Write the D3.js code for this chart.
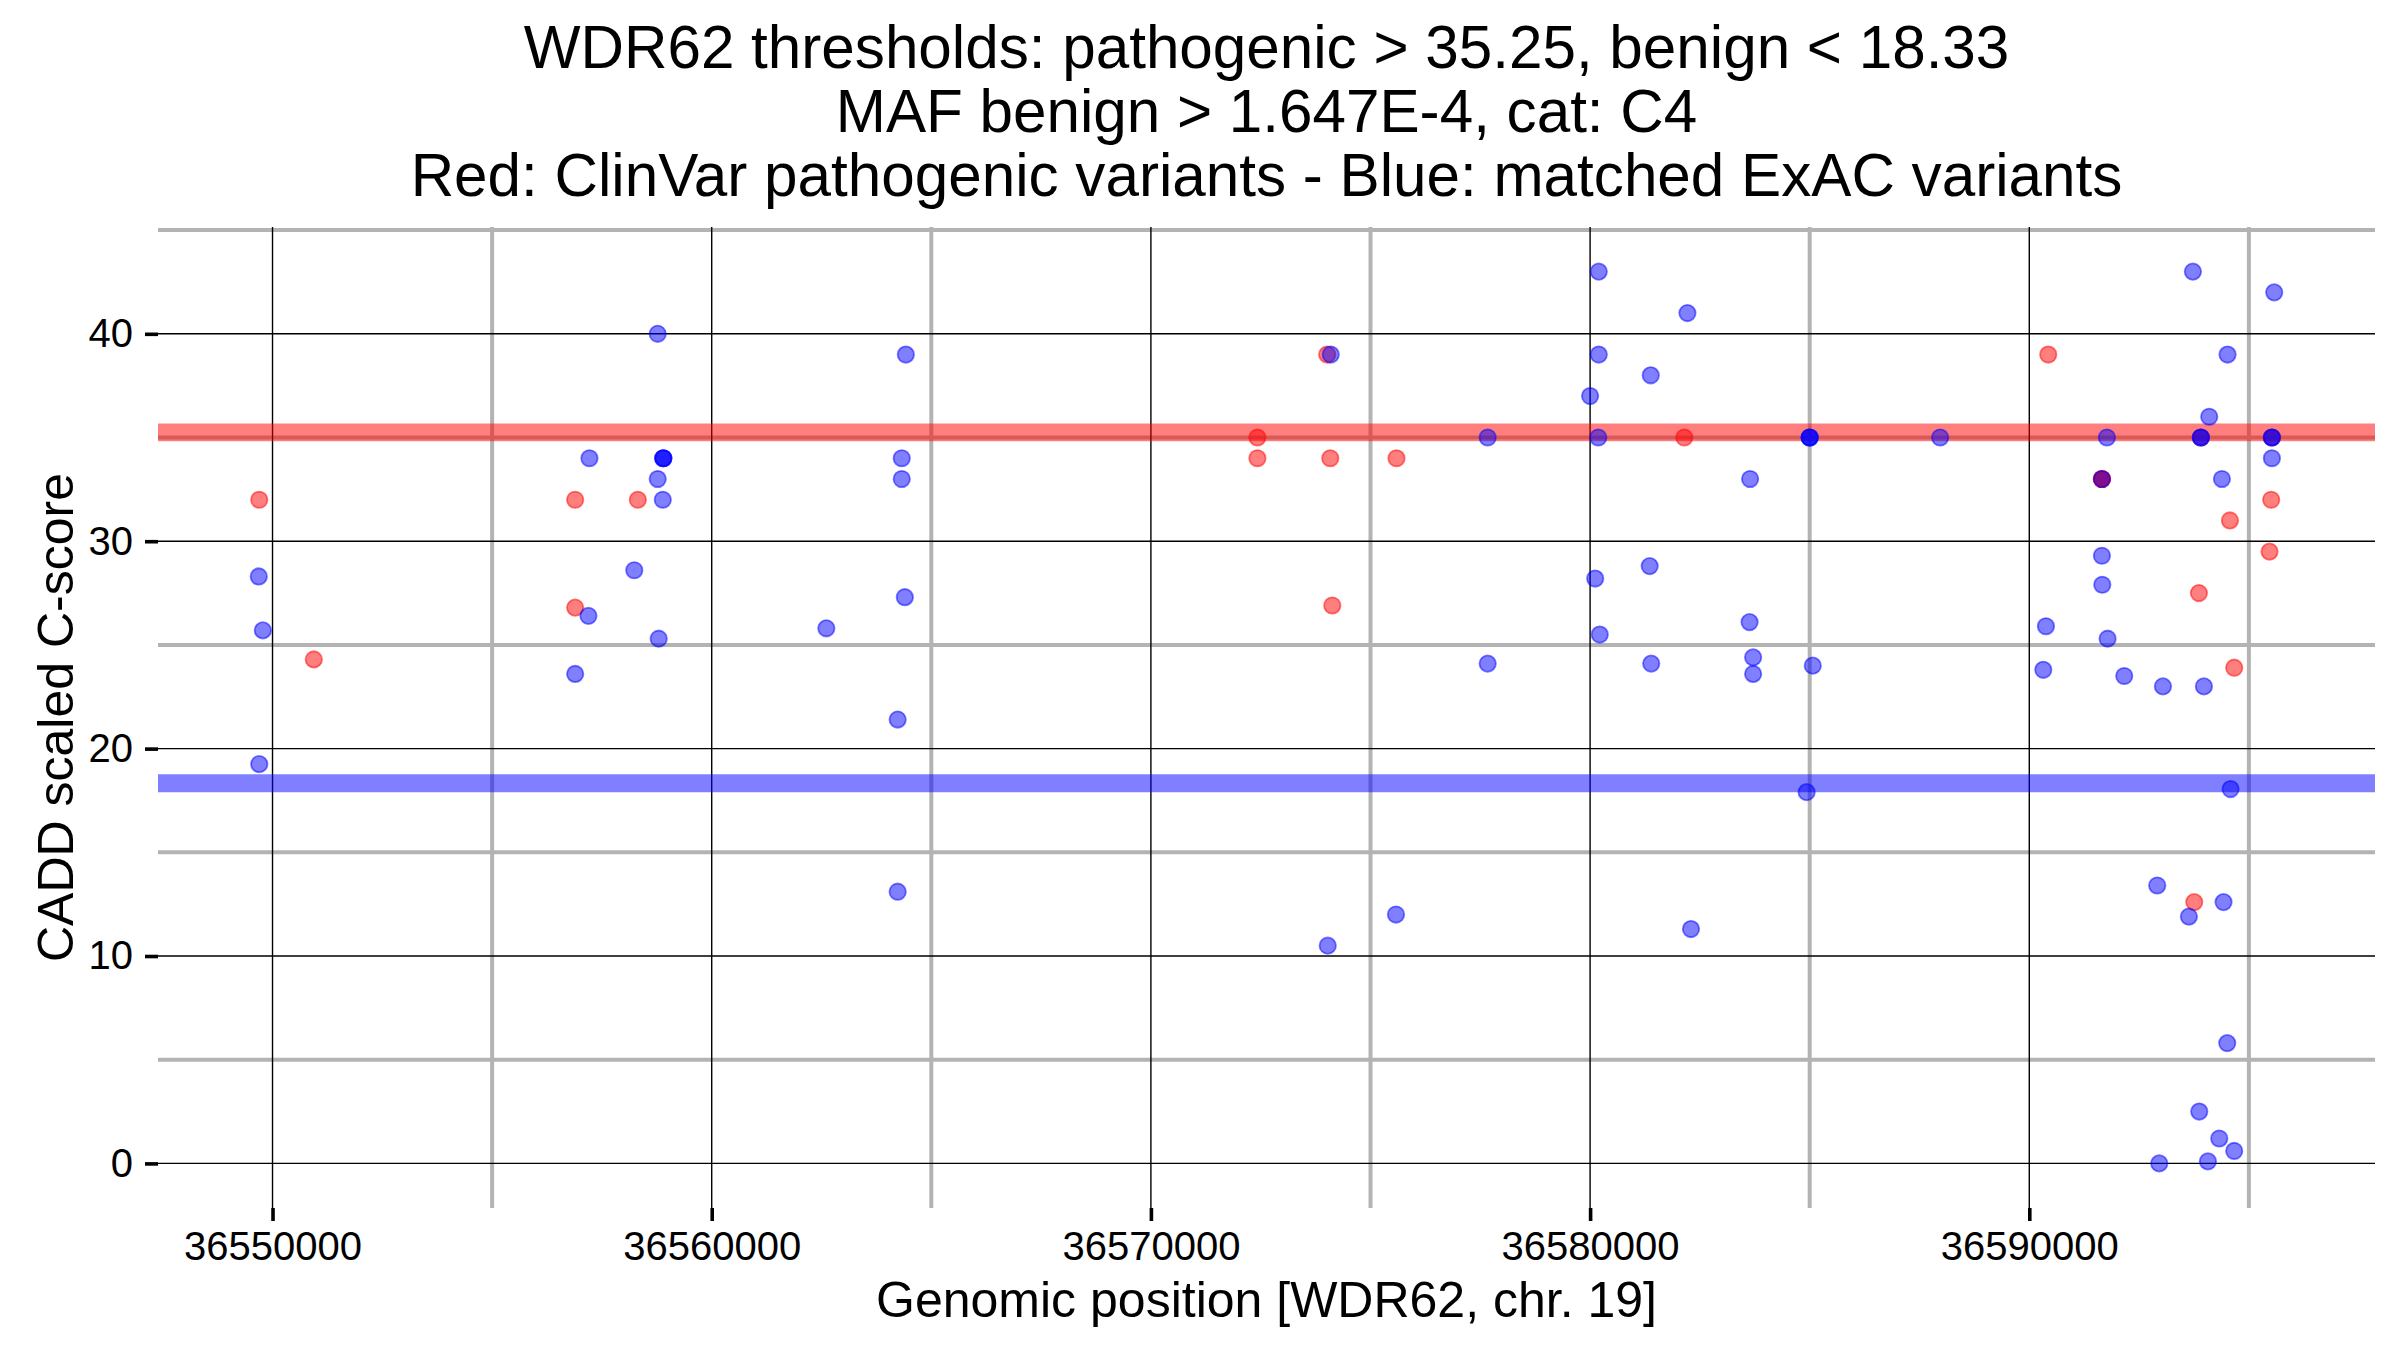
<!DOCTYPE html>
<html lang="en">
<head>
    <meta charset="UTF-8">
    <script src="https://d3js.org/d3.v7.min.js"></script>
    <style>
        body { margin: 0; background: #fff; }
        svg text { font-family: "Liberation Sans", Arial, Helvetica, sans-serif; fill: #000; }
    </style>
</head>
<body>
<div id="chart_area"></div>
<script>
    // ClinVar pathogenic variants (red)
    var redPos = [36549698, 36550940, 36556891, 36558318, 36556891, 36574014, 36572425, 36572425,
                  36574084, 36575592, 36574130, 36582146, 36590432, 36591654, 36591654, 36591654,
                  36593907, 36595524, 36594666, 36593862, 36594568, 36595508, 36595470, 36593756];
    var redScore = [32, 24.3, 32, 32, 26.8, 39, 35, 34,
                    34, 34, 26.9, 35, 39, 33, 33, 33,
                    35, 35, 23.9, 27.5, 31, 32, 29.5, 12.6];

    // matched ExAC variants (blue)
    var bluePos = [36549687, 36549780, 36549698, 36558770, 36557216, 36558898, 36558898, 36558898,
                   36558770, 36558886, 36558237, 36557193, 36558793, 36556891, 36564420, 36564327,
                   36564327, 36564397, 36562610, 36564234, 36564234,
                   36574095, 36574026, 36575580, 36577668, 36577668, 36580197, 36580197, 36580000,
                   36580186, 36580116, 36580220, 36582216, 36581381, 36581357, 36581392, 36582297,
                   36583643, 36583631, 36583712, 36583712, 36585000, 36585000, 36585000, 36585070,
                   36584930, 36587970,
                   36591768, 36591654, 36591654, 36591662, 36590379, 36591783, 36590319, 36592162,
                   36593043, 36593976, 36593725, 36595577, 36594514, 36594097, 36593907, 36593907,
                   36595524, 36595524, 36595524, 36594386, 36594583, 36592913, 36593634, 36594423,
                   36594507, 36593870, 36594325, 36594666, 36592959, 36594067];
    var blueScore = [28.3, 25.7, 19.25, 40, 34, 34, 34, 34,
                     33, 32, 28.6, 26.4, 25.3, 23.6, 39, 34,
                     33, 27.3, 25.8, 21.4, 13.1,
                     39, 10.5, 12.0, 35, 24.1, 43, 39, 37,
                     35, 28.2, 25.5, 41, 38, 28.8, 24.1, 11.3,
                     33, 26.1, 24.4, 23.6, 35, 35, 35, 24,
                     17.9, 35,
                     35, 33, 29.3, 27.9, 25.9, 25.3, 23.8, 23.5,
                     23, 23, 43, 42, 39, 36, 35, 35,
                     35, 35, 34, 33, 18.05, 13.4, 11.9, 12.6,
                     5.8, 2.5, 1.2, 0.6, 0, 0.1];

    var pathogenicThreshold = 35.25;
    var benignThreshold = 18.33;

    var xTicks = [36550000, 36560000, 36570000, 36580000, 36590000];
    var xMinor = [36555000, 36565000, 36575000, 36585000, 36595000];
    var yTicks = [0, 10, 20, 30, 40];
    var yMinor = [5, 15, 25, 35, 45];

    var titleLines = [
        "WDR62 thresholds: pathogenic > 35.25, benign < 18.33",
        "MAF benign > 1.647E-4, cat: C4",
        "Red: ClinVar pathogenic variants - Blue: matched ExAC variants"
    ];

    var margin = { top: 227, right: 25, bottom: 142, left: 158 },
        width = 2400 - margin.left - margin.right,
        height = 1350 - margin.top - margin.bottom;

    var svgRoot = d3.select("#chart_area").append("svg")
        .attr("width", 2400)
        .attr("height", 1350);
    var svg = svgRoot.append("g")
        .attr("transform", "translate(" + margin.left + "," + margin.top + ")");

    // ggplot-like 5% expansion of the data range
    var allPos = redPos.concat(bluePos), allScore = redScore.concat(blueScore);
    var xExt = d3.extent(allPos), yExt = d3.extent(allScore);
    var xPad = (xExt[1] - xExt[0]) * 0.05, yPad = (yExt[1] - yExt[0]) * 0.05;

    var x = d3.scaleLinear().domain([xExt[0] - xPad, xExt[1] + xPad]).range([0, width]);
    var y = d3.scaleLinear().domain([yExt[0] - yPad, yExt[1] + yPad]).range([height, 0]);

    // minor grid (grey, thick)
    svg.append("g").selectAll("line").data(yMinor).enter().append("line")
        .attr("x1", 0).attr("x2", width)
        .attr("y1", function (d) { return y(d); }).attr("y2", function (d) { return y(d); })
        .attr("stroke", "#b3b3b3").attr("stroke-width", 4);
    svg.append("g").selectAll("line").data(xMinor).enter().append("line")
        .attr("y1", 0).attr("y2", height)
        .attr("x1", function (d) { return x(d); }).attr("x2", function (d) { return x(d); })
        .attr("stroke", "#b3b3b3").attr("stroke-width", 4);

    // major grid (black, thin)
    svg.append("g").selectAll("line").data(yTicks).enter().append("line")
        .attr("x1", 0).attr("x2", width)
        .attr("y1", function (d) { return y(d); }).attr("y2", function (d) { return y(d); })
        .attr("stroke", "#000").attr("stroke-width", 1.4);
    svg.append("g").selectAll("line").data(xTicks).enter().append("line")
        .attr("y1", 0).attr("y2", height)
        .attr("x1", function (d) { return x(d); }).attr("x2", function (d) { return x(d); })
        .attr("stroke", "#000").attr("stroke-width", 1.4);

    // threshold bands
    svg.append("line")
        .attr("x1", 0).attr("x2", width)
        .attr("y1", y(pathogenicThreshold)).attr("y2", y(pathogenicThreshold))
        .attr("stroke", "red").attr("stroke-opacity", 0.5).attr("stroke-width", 17.7);
    svg.append("line")
        .attr("x1", 0).attr("x2", width)
        .attr("y1", y(benignThreshold)).attr("y2", y(benignThreshold))
        .attr("stroke", "blue").attr("stroke-opacity", 0.5).attr("stroke-width", 18);

    function drawPoints(pos, score, color) {
        svg.append("g").selectAll("circle")
            .data(d3.range(pos.length))
            .enter()
            .append("circle")
            .attr("cx", function (i) { return x(pos[i]); })
            .attr("cy", function (i) { return y(score[i]); })
            .attr("r", 8.2)
            .attr("fill", color).attr("fill-opacity", 0.5)
            .attr("stroke", color).attr("stroke-opacity", 0.5).attr("stroke-width", 1.8);
    }
    drawPoints(redPos, redScore, "red");
    drawPoints(bluePos, blueScore, "blue");

    // axes
    var yAxis = svg.append("g")
        .call(d3.axisLeft(y).tickValues(yTicks).tickSize(13).tickPadding(12).tickFormat(d3.format("d")));
    var xAxis = svg.append("g")
        .attr("transform", "translate(0," + height + ")")
        .call(d3.axisBottom(x).tickValues(xTicks).tickSize(13).tickPadding(11).tickFormat(d3.format("d")));
    [xAxis, yAxis].forEach(function (a) {
        a.select(".domain").remove();
        a.selectAll(".tick line").attr("stroke", "#000").attr("stroke-width", 3.6);
        a.selectAll(".tick text").style("font-size", "40px")
            .style("font-family", "'Liberation Sans', Arial, Helvetica, sans-serif").attr("fill", "#000");
    });

    // axis titles
    svg.append("text")
        .attr("x", width / 2).attr("y", 1317 - margin.top)
        .attr("text-anchor", "middle")
        .style("font-size", "50px")
        .text("Genomic position [WDR62, chr. 19]");
    svg.append("text")
        .attr("transform", "translate(" + (73 - margin.left) + "," + (height / 2) + ") rotate(-90)")
        .attr("text-anchor", "middle")
        .style("font-size", "50px")
        .text("CADD scaled C-score");

    // title
    svgRoot.append("g").selectAll("text").data(titleLines).enter().append("text")
        .attr("x", margin.left + width / 2)
        .attr("y", function (d, i) { return 68 + i * 64; })
        .attr("text-anchor", "middle")
        .style("font-size", "60.2px")
        .text(function (d) { return d; });
</script>
</body>
</html>
